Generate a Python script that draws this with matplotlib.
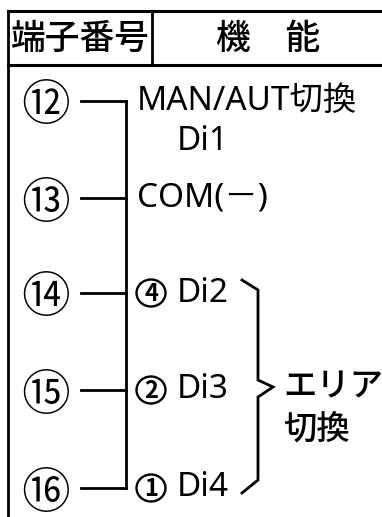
'''terminal function table: terminal numbers on the left, wired
    to a common bus, with function labels on the right
'''
import matplotlib
matplotlib.use('Agg')
import matplotlib.pyplot as plt
from matplotlib.patches import Ellipse

plt.rcParams['font.family'] = ['Noto Sans', 'Noto Sans CJK JP', 'DejaVu Sans']
CJK = ['Noto Sans CJK JP', 'DejaVu Sans']

# table content
header_labels = ['端子番号', '機\u3000能']
terminal_numbers = ['⑫', '⑬', '⑭', '⑮', '⑯']
function_labels = ['MAN/AUT切換', 'COM(\uff0d)', 'Di2', 'Di3', 'Di4']
area_codes = ['', '', '4', '2', '1']
sub_label = 'Di1'
group_label = 'エリア\n切換'

# layout in pixels
row_y = [101, 198, 293, 390, 488]
W, H = 382, 517
lw = 2.0

fig = plt.figure(figsize=(W / 100, H / 100), dpi=100)
ax = fig.add_axes([0, 0, 1, 1])
ax.set_xlim(0, W)
ax.set_ylim(H, 0)
ax.axis('off')

# table frame
ax.plot([8, W], [11, 11], color='black', lw=lw * 1.1)
ax.plot([8, W], [65, 65], color='black', lw=lw * 1.1)
ax.plot([8, 8], [11, H], color='black', lw=lw)
ax.plot([152, 152], [11, 65], color='black', lw=lw)

ax.text(80, 39, header_labels[0], fontsize=25, family=CJK,
        fontweight=500, ha='center', va='center')
ax.text(268, 39, header_labels[1], fontsize=25, family=CJK,
        fontweight=500, ha='center', va='center')

# terminals and wiring
for num, y in zip(terminal_numbers, row_y):
    ax.text(46, y, num, fontsize=35, family=CJK, fontweight=350,
            ha='center', va='center_baseline')
    ax.plot([81, 126], [y, y], color='black', lw=lw)
ax.plot([126, 126], [row_y[0], row_y[-1]], color='black', lw=lw)

# function labels
for label, code, y in zip(function_labels, area_codes, row_y):
    if code:
        ax.add_patch(Ellipse((151, y), 29, 27, fill=False, lw=1.7,
                             color='black'))
        ax.text(151, y + 1, code, fontsize=17, family=CJK,
                fontweight='bold', ha='center', va='center')
        ax.text(177, y, label, fontsize=24, ha='left', va='center')
    else:
        ax.text(137, y, label, fontsize=24, ha='left', va='center')
ax.text(177, row_y[0] + 40, sub_label, fontsize=24, ha='left', va='center')

# brace for area switching
bx = [242, 258, 258, 273, 258, 258, 242]
by = [280, 290, 380, 387, 397, 480, 493]
ax.plot(bx, by, color='black', lw=lw, solid_joinstyle='miter')
ax.text(283, 408, group_label, fontsize=24, family=CJK, fontweight=500,
        ha='left', va='center', linespacing=1.3)

fig.savefig('out.png', dpi=100)
